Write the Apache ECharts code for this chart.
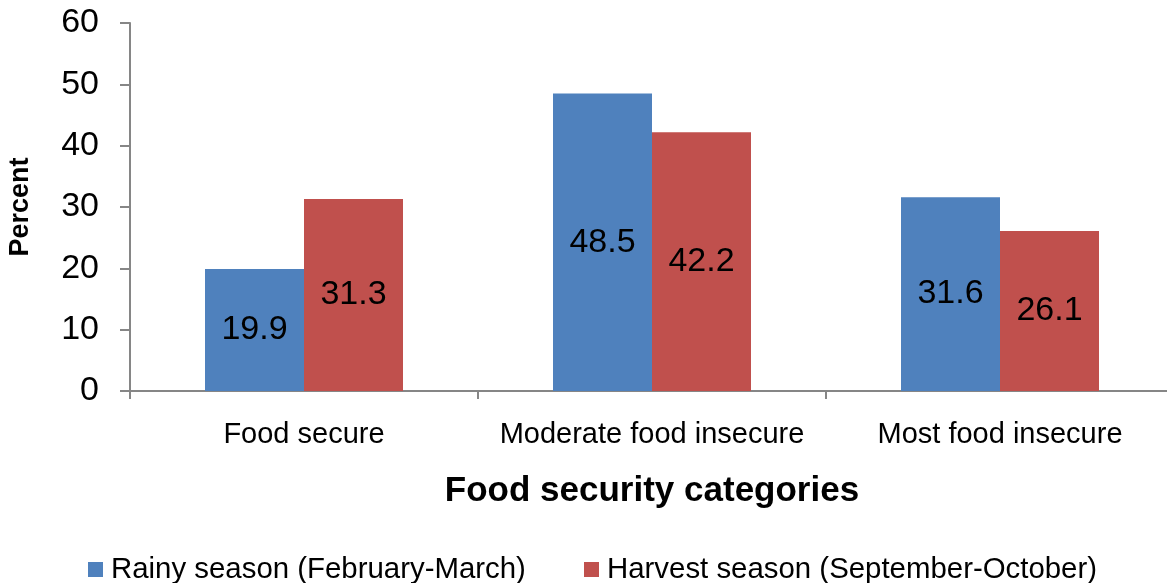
<!DOCTYPE html>
<html>
<head>
<meta charset="utf-8">
<script src="https://cdn.jsdelivr.net/npm/echarts@6/dist/echarts.min.js"></script>
<style>
  html, body { margin: 0; padding: 0; background: #fff; }
  #main { width: 1167px; height: 583px; }
</style>
</head>
<body>
<div id="main"></div>
<script>
var categories = ['Food secure', 'Moderate food insecure', 'Most food insecure']
var rainy = [19.9, 48.5, 31.6]
var harvest = [31.3, 42.2, 26.1]
var seriesNames = ['Rainy season (February-March)', 'Harvest season (September-October)']
var yTicks = [0, 10, 20, 30, 40, 50, 60]

var myChart = echarts.init(document.getElementById('main'))
var font = 'Liberation Sans, Arial, sans-serif'
var axisColor = '#868686'

var labelStyle = {
    show: true,
    position: 'inside',
    color: '#000',
    fontFamily: font,
    fontSize: 34
}

// one legend per series so the long entries never wrap
function legendAt(x, name) {
    return {
        left: x,
        top: 555,
        padding: 0,
        itemWidth: 15,
        itemHeight: 15,
        icon: 'rect',
        textStyle: { fontSize: 29.4, color: '#000', fontFamily: font, padding: [0, 0, 0, 3] },
        data: [name]
    }
}

var option = {
    animation: false,
    textStyle: { fontFamily: font },
    // the last category runs past the right edge, as in the source picture
    grid: { left: 130, width: 1044, top: 23, bottom: 192, outerBoundsMode: 'none', containLabel: false },
    legend: [legendAt(88, seriesNames[0]), legendAt(584, seriesNames[1])],
    xAxis: {
        type: 'category',
        data: categories,
        name: 'Food security categories',
        nameLocation: 'middle',
        nameGap: 83,
        nameTextStyle: { fontSize: 35, fontWeight: 'bold', color: '#000', fontFamily: font },
        axisLine: { lineStyle: { color: axisColor, width: 2 } },
        axisTick: { show: true, length: 8, lineStyle: { color: axisColor, width: 2 } },
        axisLabel: { interval: 0, fontSize: 29, color: '#000', margin: 29, fontFamily: font }
    },
    yAxis: {
        type: 'value',
        min: yTicks[0],
        max: yTicks[yTicks.length - 1],
        interval: 10,
        name: 'Percent',
        nameLocation: 'middle',
        nameGap: 96,
        nameTextStyle: { fontSize: 27, fontWeight: 'bold', color: '#000', fontFamily: font },
        splitLine: { show: false },
        axisLine: { show: true, lineStyle: { color: axisColor, width: 2 } },
        axisTick: { show: true, length: 10, lineStyle: { color: axisColor, width: 2 } },
        axisLabel: { fontSize: 34, color: '#000', margin: 31, fontFamily: font }
    },
    series: [
        {
            name: seriesNames[0],
            type: 'bar',
            data: rainy,
            barWidth: 99,
            barGap: '0%',
            itemStyle: { color: '#4F81BD' },
            label: labelStyle
        },
        {
            name: seriesNames[1],
            type: 'bar',
            data: harvest,
            barWidth: 99,
            barGap: '0%',
            itemStyle: { color: '#C0504D' },
            label: labelStyle
        }
    ]
}
myChart.setOption(option)
</script>
</body>
</html>
